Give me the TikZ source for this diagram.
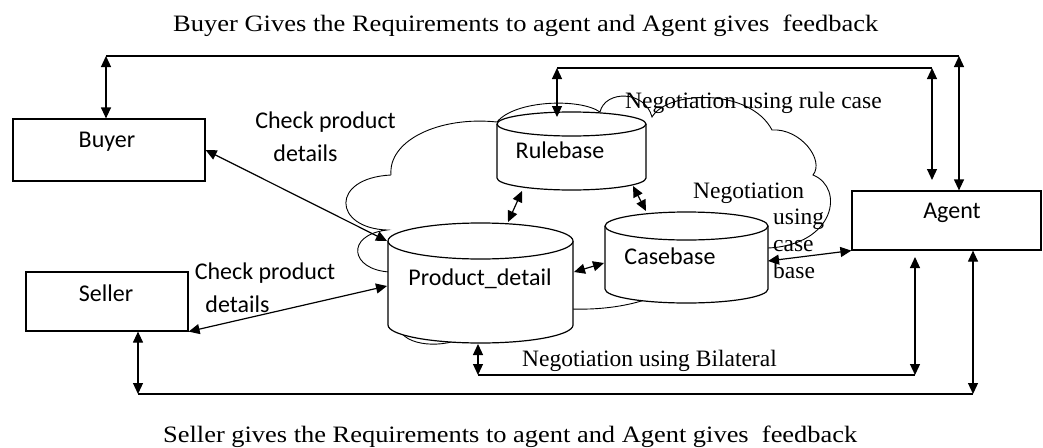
\documentclass[tikz,border=0pt]{standalone}
\usepackage{fontspec}
\usepackage{graphicx}
\setmainfont{Liberation Serif}
\newfontfamily\calfont{Carlito}
\usetikzlibrary{arrows.meta}

\tikzset{
  box/.style={draw, line width=1.2pt, inner sep=0pt},
  sanslbl/.style={font=\calfont\fontsize{24}{28}\selectfont, inner sep=0pt, anchor=base},
  seriflbl/.style={font=\fontsize{23.5}{28}\selectfont, inner sep=0pt, anchor=base west},
  link/.style={line width=1.2pt},
  bi/.style={link, {Triangle[length=11pt,width=10pt]}-{Triangle[length=11pt,width=10pt]}},
  cloudline/.style={line width=0.9pt},
  drumline/.style={line width=1.2pt},
}

% database drum: name, centre x, top-ellipse y, bottom-ellipse y, x radius, y radius
\newcommand\drum[6]{%
  \fill[white] (#2-#5,#3) -- (#2-#5,#4)
    .. controls (#2-#5,#4+0.5523*#6) and (#2-0.5523*#5,#4+#6) .. (#2,#4+#6)
    .. controls (#2+0.5523*#5,#4+#6) and (#2+#5,#4+0.5523*#6) .. (#2+#5,#4)
    -- (#2+#5,#3) -- cycle;
  \draw[drumline] (#2-#5,#3) -- (#2-#5,#4)
    .. controls (#2-#5,#4+0.5523*#6) and (#2-0.5523*#5,#4+#6) .. (#2,#4+#6)
    .. controls (#2+0.5523*#5,#4+#6) and (#2+#5,#4+0.5523*#6) .. (#2+#5,#4)
    -- (#2+#5,#3);
  \draw[drumline, fill=white] (#2,#3) ellipse[x radius=#5, y radius=#6];
  \coordinate (#1) at (#2,#3);
}

\begin{document}
\begin{tikzpicture}[x=1pt,y=-1pt]
\fill[white] (0,0) rectangle (1043,447);
\useasboundingbox (0,0) rectangle (1043,447);

% the cloud behind the three stores
\draw[cloudline]
  (391,175) .. controls (388,140) and (440,116) .. (497,122)
  .. controls (515,100) and (580,98) .. (600,112)
  .. controls (605,90) and (645,90) .. (652,117)
  .. controls (668,90) and (750,88) .. (772,130)
  .. controls (800,128) and (825,160) .. (813,175)
  .. controls (845,188) and (835,245) .. (768,248)
  -- (660,294)
  .. controls (630,308) and (585,313) .. (540,306)
  -- (470,334)
  .. controls (450,348) and (410,348) .. (400,331)
  -- (390,272)
  .. controls (350,270) and (345,235) .. (387,230)
  .. controls (333,228) and (330,178) .. (391,175);

% stores
\drum{rulestore}{571.5}{124}{178}{74.5}{12}
\drum{casestore}{686.5}{226}{289}{81.5}{14}
\drum{prodstore}{480.5}{241}{325}{92.5}{18}

% actors
\node[box, minimum width=192pt, minimum height=62pt] (buyer) at (109,150) {};
\node[box, minimum width=162pt, minimum height=59pt] (seller) at (107,301.5) {};
\node[box, minimum width=189pt, minimum height=59pt] (agent) at (946.5,220.5) {};

% labels
\node[sanslbl] (buyerlbl) at (107,147) {Buyer};
\node[sanslbl] (sellerlbl) at (106,301) {Seller};
\node[sanslbl] (agentlbl) at (952,218) {Agent};
\node[sanslbl] (rb) at (560,158) {Rulebase};
\node[sanslbl] (cb) at (670,264) {Casebase};
\node[sanslbl] (pd) at (480,285) {Product\_detail};
\node[sanslbl] (chk1) at (325.5,128) {Check product};
\node[sanslbl] (det1) at (305.5,161) {details};
\node[sanslbl] (chk2) at (265,279) {Check product};
\node[sanslbl] (det2) at (237.5,312) {details};

\node[seriflbl] (rcase) at (625,108) {Negotiation using rule case};
\node[seriflbl] (bilat) at (522,366) {Negotiation using Bilateral};
\node[seriflbl] (cneg) at (693,198) {Negotiation};
\node[seriflbl] (cusing) at (773,224) {using};
\node[seriflbl] (ccase) at (773,251) {case};
\node[seriflbl] (cbase) at (773,278) {base};

\node[seriflbl] (toptitle) at (173,31)
  {\resizebox{705pt}{\height}{Buyer Gives the Requirements to agent and Agent gives~ feedback}};
\node[seriflbl] (bottitle) at (163,442)
  {\resizebox{694pt}{\height}{Seller gives the Requirements to agent and Agent gives~ feedback}};

% connector end points
\coordinate (tl1) at (106,56);
\coordinate (tr1) at (959,56);
\coordinate (tl2) at (557,68);
\coordinate (tr2) at (932,68);
\coordinate (agtop2) at (932,180);
\coordinate (rbtop) at (557,117);
\coordinate (bl1) at (138,394);
\coordinate (br1) at (973,394);
\coordinate (bl2) at (478,375);
\coordinate (br2) at (915,375);
\coordinate (agbot2) at (915,257);
\coordinate (pdbot) at (478,344);
\coordinate (pdw1) at (387,241);
\coordinate (pdw2) at (387,286);
\coordinate (rbs1) at (522,191);
\coordinate (pdn1) at (508,222);
\coordinate (rbs2) at (633,186);
\coordinate (cbn1) at (646,211);
\coordinate (pde1) at (574,272);
\coordinate (cbw1) at (604,263);
\coordinate (cbe1) at (768,261);

% buyer <-> agent loop
\draw[bi] (tl1 |- buyer.north) -- (tl1);
\draw[link] (tl1) -- (tr1);
\draw[bi] (tr1) -- (tr1 |- agent.north);

% rulebase <-> agent
\draw[bi] (rbtop) -- (tl2);
\draw[link] (tl2) -- (tr2);
\draw[bi] (tr2) -- (agtop2);

% seller <-> agent loop
\draw[bi] (bl1 |- seller.south) -- (bl1);
\draw[link] (bl1) -- (br1);
\draw[bi] (br1) -- (br1 |- agent.south);

% bilateral negotiation
\draw[bi] (pdbot) -- (bl2);
\draw[link] (bl2) -- (br2);
\draw[bi] (br2) -- (agbot2);

% product checks
\draw[bi] (buyer.east) -- (pdw1);
\draw[bi] (seller.south east) -- (pdw2);

% between the stores
\draw[bi] (rbs1) -- (pdn1);
\draw[bi] (rbs2) -- (cbn1);
\draw[bi] (pde1) -- (cbw1);
\draw[bi] (cbe1) -- (agent.south west);
\end{tikzpicture}
\end{document}
